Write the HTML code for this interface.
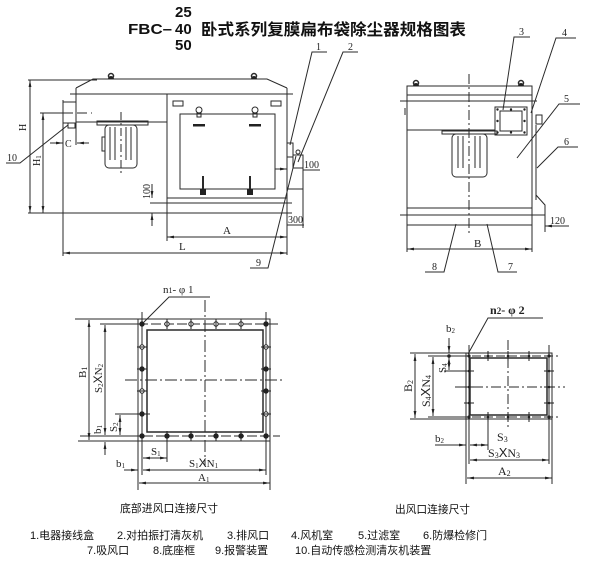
<!DOCTYPE html>
<html><head><meta charset="utf-8"><style>
html,body{margin:0;padding:0;background:#fff}
svg{display:block}
.t{font-family:"Liberation Serif","Noto Serif CJK SC",serif;fill:#222}
.c{font-family:"Liberation Sans","Noto Sans CJK SC",sans-serif;fill:#111}
.x{font-family:"Liberation Sans",sans-serif}
</style></head><body>
<svg width="602" height="572" viewBox="0 0 602 572" xmlns="http://www.w3.org/2000/svg">
<defs>
<marker id="ar" viewBox="0 0 10 4" refX="10" refY="2" markerWidth="7" markerHeight="2.8" orient="auto-start-reverse" markerUnits="userSpaceOnUse"><path d="M0,0 L10,2 L0,4z" fill="#222"/></marker>
</defs>

<!-- Title -->
<g font-family="Liberation Sans, sans-serif" font-weight="bold" fill="#111" font-size="15">
<text x="175" y="17">25</text>
<text x="128" y="34" textLength="44" lengthAdjust="spacingAndGlyphs">FBC–</text>
<text x="175" y="34">40</text>
<text x="175" y="50">50</text>
</g>
<text x="201" y="35" font-family="Noto Sans CJK SC, sans-serif" font-weight="bold" font-size="16" fill="#111" textLength="265" lengthAdjust="spacingAndGlyphs">卧式系列复膜扁布袋除尘器规格图表</text>

<g stroke="#2a2a2a" fill="none" stroke-width="1">
<!-- ================= LEFT VIEW ================= -->
<polyline points="76,88 93,79 267,79 287,88"/>
<line x1="70" y1="94" x2="293" y2="94"/>
<line x1="76" y1="88" x2="76" y2="145"/>
<line x1="287" y1="88" x2="287" y2="255"/>
<line x1="63" y1="100" x2="63" y2="256"/>
<rect x="63" y="102" width="13" height="21"/>
<rect x="68" y="123" width="7" height="5"/>
<line x1="76" y1="122" x2="167" y2="122"/>
<line x1="167" y1="94" x2="167" y2="241"/>
<circle cx="111" cy="76" r="2.5" stroke-width="1.5"/>
<circle cx="254" cy="76" r="2.5" stroke-width="1.5"/>
<rect x="173" y="101" width="10" height="5"/>
<rect x="271" y="101" width="10" height="5"/>
<rect x="180" y="114" width="95" height="75"/>
<circle cx="199" cy="110" r="3"/>
<circle cx="255" cy="110" r="3"/>
<rect x="197" y="113" width="4" height="4"/>
<rect x="253" y="113" width="4" height="4"/>
<line x1="275" y1="169" x2="287" y2="169" marker-end="url(#ar)"/>
<line x1="203" y1="176" x2="203" y2="191" stroke-width="2"/>
<line x1="250" y1="176" x2="250" y2="191" stroke-width="2"/>
<rect x="97" y="121" width="51" height="4"/>
<rect x="105" y="125" width="32" height="43" rx="4"/>
<line x1="110" y1="127" x2="110" y2="160"/>
<line x1="115" y1="127" x2="115" y2="160"/>
<line x1="126" y1="127" x2="126" y2="160"/>
<line x1="131" y1="127" x2="131" y2="160"/>
<rect x="102" y="137" width="3" height="14"/>
<line x1="121" y1="112" x2="121" y2="176" stroke-dasharray="8,3,2,3"/>
<rect x="287" y="143" width="6" height="14"/>
<rect x="293" y="155" width="10" height="13"/>
<circle cx="298" cy="152" r="2"/>
<line x1="167" y1="198" x2="287" y2="198"/>
<line x1="150" y1="203" x2="292" y2="203"/>
<line x1="28" y1="213" x2="292" y2="213"/>
<line x1="152" y1="184" x2="152" y2="198" marker-end="url(#ar)"/>
<line x1="152" y1="226" x2="152" y2="213" marker-end="url(#ar)"/>
<line x1="303" y1="155" x2="303" y2="228"/>
<line x1="287" y1="189" x2="303" y2="189"/>
<line x1="303" y1="170" x2="320" y2="170"/>
<line x1="287" y1="225" x2="304" y2="225"/>
<line x1="28" y1="80" x2="97" y2="80"/>
<line x1="30" y1="80" x2="30" y2="213" marker-start="url(#ar)" marker-end="url(#ar)"/>
<line x1="40" y1="113" x2="63" y2="113"/>
<line x1="63" y1="113" x2="92" y2="113" stroke-dasharray="10,4"/>
<line x1="43" y1="113" x2="43" y2="213" marker-start="url(#ar)" marker-end="url(#ar)"/>
<line x1="50" y1="143" x2="63" y2="143" marker-end="url(#ar)"/>
<line x1="89" y1="143" x2="77" y2="143" marker-end="url(#ar)"/>
<line x1="167" y1="237" x2="287" y2="237" marker-start="url(#ar)" marker-end="url(#ar)"/>
<line x1="63" y1="253" x2="287" y2="253" marker-start="url(#ar)" marker-end="url(#ar)"/>
<polyline points="6,163 20,163 68,125"/>
<polyline points="327,52 312,52 290,145"/>
<polyline points="358,52 343,52 298,162"/>
<polyline points="250,268 268,268 296,156"/>

<!-- ================= RIGHT VIEW ================= -->
<rect x="407" y="86" width="125" height="139"/>
<line x1="407" y1="95" x2="532" y2="95"/>
<line x1="400" y1="101" x2="537" y2="101"/>
<line x1="407" y1="130" x2="495" y2="130"/>
<line x1="407" y1="208" x2="532" y2="208"/>
<line x1="400" y1="215" x2="545" y2="215"/>
<line x1="407" y1="225" x2="407" y2="252"/>
<line x1="532" y1="225" x2="532" y2="252"/>
<line x1="405" y1="108" x2="405" y2="115"/>
<circle cx="416" cy="83" r="2.5" stroke-width="1.5"/>
<circle cx="521" cy="83" r="2.5" stroke-width="1.5"/>
<line x1="469" y1="74" x2="469" y2="236" stroke-dasharray="10,3,2,3"/>
<rect x="495" y="107" width="32" height="28"/>
<rect x="500" y="111" width="22" height="20"/>
<rect x="442" y="131" width="55" height="3"/>
<rect x="452" y="134" width="35" height="43" rx="4"/>
<line x1="458" y1="136" x2="458" y2="168"/>
<line x1="463" y1="136" x2="463" y2="168"/>
<line x1="475" y1="136" x2="475" y2="168"/>
<line x1="480" y1="136" x2="480" y2="168"/>
<line x1="536" y1="125" x2="536" y2="200"/>
<rect x="536" y="115" width="6" height="9"/>
<polyline points="536,195 545,205 545,215"/>
<line x1="545" y1="205" x2="545" y2="232"/>
<line x1="569" y1="226" x2="545" y2="226" marker-end="url(#ar)"/>
<line x1="407" y1="249" x2="532" y2="249" marker-start="url(#ar)" marker-end="url(#ar)"/>
<polyline points="530,37 514,37 503,110"/>
<polyline points="576,38 556,38 531,113"/>
<polyline points="580,104 559,104 517,158"/>
<polyline points="578,147 558,147 537,168"/>
<polyline points="517,272 498,272 487,224"/>
<polyline points="425,272 444,272 456,224"/>

<!-- ================= BOTTOM-LEFT FLANGE ================= -->
<rect x="138" y="319" width="132" height="122"/>
<rect x="147" y="330" width="116" height="102" stroke-width="1.5"/>
<line x1="138" y1="324" x2="280" y2="324" stroke-dasharray="10,3"/>
<line x1="130" y1="436" x2="280" y2="436" stroke-dasharray="10,3"/>
<line x1="142" y1="312" x2="142" y2="475"/>
<line x1="266" y1="312" x2="266" y2="475"/>
<line x1="205" y1="300" x2="205" y2="466" stroke-dasharray="12,3,2,3"/>
<line x1="125" y1="380" x2="285" y2="380" stroke-dasharray="12,3,2,3"/>
<line x1="75" y1="319" x2="138" y2="319"/>
<line x1="78" y1="441" x2="138" y2="441"/>
<line x1="100" y1="324" x2="142" y2="324"/>
<line x1="115" y1="414" x2="150" y2="414"/>
<line x1="80" y1="436" x2="142" y2="436"/>
<line x1="89" y1="320" x2="89" y2="440" marker-start="url(#ar)" marker-end="url(#ar)"/>
<line x1="105" y1="325" x2="105" y2="435" marker-start="url(#ar)" marker-end="url(#ar)"/>
<line x1="120" y1="415" x2="120" y2="435" marker-start="url(#ar)" marker-end="url(#ar)"/>
<line x1="105" y1="455" x2="105" y2="442" marker-end="url(#ar)"/>
<line x1="138" y1="441" x2="138" y2="490"/>
<line x1="270" y1="441" x2="270" y2="490"/>
<line x1="167" y1="436" x2="167" y2="462"/>
<line x1="143" y1="458" x2="167" y2="458" marker-start="url(#ar)" marker-end="url(#ar)"/>
<line x1="124" y1="470" x2="138" y2="470" marker-end="url(#ar)"/>
<line x1="143" y1="470" x2="266" y2="470" marker-start="url(#ar)" marker-end="url(#ar)"/>
<line x1="139" y1="483" x2="270" y2="483" marker-start="url(#ar)" marker-end="url(#ar)"/>
<polyline points="210,297 169,297 144,322"/>

<!-- ================= BOTTOM-RIGHT FLANGE ================= -->
<rect x="466" y="353" width="86" height="66"/>
<rect x="470" y="358" width="77" height="57" stroke-width="1.5"/>
<line x1="460" y1="356" x2="558" y2="356" stroke-dasharray="9,3"/>
<line x1="460" y1="417" x2="558" y2="417" stroke-dasharray="9,3"/>
<line x1="469" y1="345" x2="469" y2="464"/>
<line x1="549" y1="345" x2="549" y2="464"/>
<line x1="455" y1="387" x2="565" y2="387" stroke-dasharray="10,3,2,3"/>
<line x1="508" y1="340" x2="508" y2="430" stroke-dasharray="10,3,2,3"/>
<line x1="410" y1="353" x2="466" y2="353"/>
<line x1="410" y1="419" x2="466" y2="419"/>
<line x1="428" y1="356" x2="466" y2="356"/>
<line x1="428" y1="417" x2="466" y2="417"/>
<line x1="444" y1="371" x2="472" y2="371"/>
<line x1="415" y1="354" x2="415" y2="418" marker-start="url(#ar)" marker-end="url(#ar)"/>
<line x1="433" y1="357" x2="433" y2="416" marker-start="url(#ar)" marker-end="url(#ar)"/>
<line x1="449" y1="357" x2="449" y2="370" marker-start="url(#ar)" marker-end="url(#ar)"/>
<line x1="449" y1="338" x2="449" y2="353" marker-end="url(#ar)"/>
<line x1="466" y1="419" x2="466" y2="484"/>
<line x1="552" y1="419" x2="552" y2="484"/>
<line x1="488" y1="419" x2="488" y2="450"/>
<line x1="435" y1="445" x2="466" y2="445" marker-end="url(#ar)"/>
<line x1="470" y1="445" x2="488" y2="445" marker-start="url(#ar)" marker-end="url(#ar)"/>
<line x1="470" y1="460" x2="549" y2="460" marker-start="url(#ar)" marker-end="url(#ar)"/>
<line x1="467" y1="478" x2="552" y2="478" marker-start="url(#ar)" marker-end="url(#ar)"/>
<polyline points="543,318 488,318 468,354"/>
</g>

<g fill="#222" stroke="none">
<rect x="193" y="124" width="12" height="2.5"/>
<rect x="249" y="124" width="12" height="2.5"/>
<rect x="200" y="189" width="6" height="6"/>
<rect x="247" y="189" width="6" height="6"/>
<path d="M108,79 a3,3 0 0 1 6,0z"/>
<path d="M251,79 a3,3 0 0 1 6,0z"/>
<path d="M413,86 a3,3 0 0 1 6,0z"/>
<path d="M518,86 a3,3 0 0 1 6,0z"/>
<circle cx="497.5" cy="109.5" r="1.2"/><circle cx="511" cy="109.5" r="1.2"/><circle cx="524.5" cy="109.5" r="1.2"/>
<circle cx="497.5" cy="132.5" r="1.2"/><circle cx="511" cy="132.5" r="1.2"/><circle cx="524.5" cy="132.5" r="1.2"/>
<circle cx="497.5" cy="121" r="1.2"/><circle cx="524.5" cy="121" r="1.2"/>
</g>

<g stroke="#222" stroke-width="1" fill="#fff">
<circle cx="142" cy="324" r="2.2" fill="#222"/><circle cx="167" cy="324" r="2.2"/><circle cx="191" cy="324" r="2.2"/><circle cx="216" cy="324" r="2.2"/><circle cx="241" cy="324" r="2.2"/><circle cx="266" cy="324" r="2.2" fill="#222"/>
<circle cx="142" cy="436" r="2.2" fill="#222"/><circle cx="167" cy="436" r="2.2" fill="#222"/><circle cx="191" cy="436" r="2.2" fill="#222"/><circle cx="216" cy="436" r="2.2" fill="#222"/><circle cx="241" cy="436" r="2.2" fill="#222"/><circle cx="266" cy="436" r="2.2" fill="#222"/>
<circle cx="142" cy="347" r="2.2"/><circle cx="142" cy="369" r="2.2" fill="#222"/><circle cx="142" cy="391" r="2.2"/><circle cx="142" cy="414" r="2.2" fill="#222"/>
<circle cx="266" cy="347" r="2.2"/><circle cx="266" cy="369" r="2.2" fill="#222"/><circle cx="266" cy="391" r="2.2" fill="#222"/><circle cx="266" cy="414" r="2.2"/>
</g>
<g stroke="#222" stroke-width="1">
<path d="M137,347h10M137,369h10M137,391h10M137,414h10M261,347h10M261,369h10M261,391h10M261,414h10M167,319v10M191,319v10M216,319v10M241,319v10M167,431v10M191,431v10M216,431v10M241,431v10"/>
<path d="M488,351v10M508,351v10M529,351v10M488,412v10M508,412v10M529,412v10M464,371h10M464,387h10M464,403h10M544,371h10M544,387h10M544,403h10"/>
</g>
<g fill="#222">
<circle cx="469" cy="356" r="1.6"/><circle cx="488" cy="356" r="1.3"/><circle cx="508" cy="356" r="1.3"/><circle cx="529" cy="356" r="1.3"/><circle cx="549" cy="356" r="1.6"/>
<circle cx="469" cy="417" r="1.6"/><circle cx="488" cy="417" r="1.3"/><circle cx="508" cy="417" r="1.3"/><circle cx="529" cy="417" r="1.3"/><circle cx="549" cy="417" r="1.6"/>
<circle cx="469" cy="371" r="1.3"/><circle cx="469" cy="387" r="1.3"/><circle cx="469" cy="403" r="1.3"/>
<circle cx="549" cy="371" r="1.3"/><circle cx="549" cy="387" r="1.3"/><circle cx="549" cy="403" r="1.3"/>
<circle cx="449" cy="356" r="1.8"/>
</g>

<g class="t" font-size="10">
<text x="26" y="131" transform="rotate(-90 26 131)">H</text>
<text x="40" y="166" transform="rotate(-90 40 166)">H<tspan font-size="7" dy="1">1</tspan></text>
<text x="65" y="147">C</text>
<text x="7" y="161">10</text>
<text x="150" y="199" transform="rotate(-90 150 199)">100</text>
<text x="223" y="234" font-size="11">A</text>
<text x="179" y="250" font-size="11">L</text>
<text x="304" y="168">100</text>
<text x="288" y="223">300</text>
<text x="316" y="50">1</text>
<text x="348" y="50">2</text>
<text x="256" y="266">9</text>
<text x="519" y="35">3</text>
<text x="562" y="36">4</text>
<text x="564" y="102">5</text>
<text x="564" y="145">6</text>
<text x="508" y="270">7</text>
<text x="432" y="270">8</text>
<text x="550" y="224">120</text>
<text x="474" y="247" font-size="11">B</text>
</g>

<g class="t" font-size="11">
<text x="163" y="293">n<tspan font-size="8">1</tspan>- φ 1</text>
<text x="86" y="378" transform="rotate(-90 86 378)">B<tspan font-size="8" dy="1">1</tspan></text>
<text x="102" y="393" transform="rotate(-90 102 393)">S<tspan font-size="7" dy="1">2</tspan><tspan class="x" font-size="12" dy="-1">X</tspan>N<tspan font-size="7" dy="1">2</tspan></text>
<text x="117" y="432" transform="rotate(-90 117 432)">S<tspan font-size="7" dy="1">2</tspan></text>
<text x="101" y="434" transform="rotate(-90 101 434)">b<tspan font-size="7" dy="1">1</tspan></text>
<text x="151" y="455">S<tspan font-size="7" dy="1">1</tspan></text>
<text x="116" y="467">b<tspan font-size="7" dy="1">1</tspan></text>
<text x="189" y="467">S<tspan font-size="7" dy="1">1</tspan><tspan class="x" font-size="12" dy="-1">X</tspan>N<tspan font-size="7" dy="1">1</tspan></text>
<text x="198" y="481">A<tspan font-size="7" dy="1">1</tspan></text>

<text x="490" y="314" font-size="12" font-weight="bold">n<tspan font-size="9">2</tspan>- φ 2</text>
<text x="446" y="332">b<tspan font-size="7" dy="1">2</tspan></text>
<text x="412" y="392" font-size="12" transform="rotate(-90 412 392)">B<tspan font-size="8" dy="1">2</tspan></text>
<text x="430" y="407" font-size="12" transform="rotate(-90 430 407)">S<tspan font-size="8" dy="1">4</tspan><tspan class="x" font-size="13" dy="-1">X</tspan>N<tspan font-size="8" dy="1">4</tspan></text>
<text x="446" y="373" transform="rotate(-90 446 373)">S<tspan font-size="7" dy="1">4</tspan></text>
<text x="435" y="442">b<tspan font-size="7" dy="1">2</tspan></text>
<text x="497" y="441" font-size="12">S<tspan font-size="8" dy="1">3</tspan></text>
<text x="488" y="457" font-size="12">S<tspan font-size="8" dy="1">3</tspan><tspan class="x" font-size="13" dy="-1">X</tspan>N<tspan font-size="8" dy="1">3</tspan></text>
<text x="498" y="475" font-size="12">A<tspan font-size="8" dy="1">2</tspan></text>
</g>

<g class="c" font-size="11">
<text x="120" y="512" textLength="98" lengthAdjust="spacingAndGlyphs">底部进风口连接尺寸</text>
<text x="395" y="513" textLength="75" lengthAdjust="spacingAndGlyphs">出风口连接尺寸</text>
<text x="30" y="539">1.电器接线盒</text>
<text x="117" y="539">2.对拍振打清灰机</text>
<text x="227" y="539">3.排风口</text>
<text x="291" y="539">4.风机室</text>
<text x="358" y="539">5.过滤室</text>
<text x="423" y="539">6.防爆检修门</text>
<text x="87" y="554">7.吸风口</text>
<text x="153" y="554">8.底座框</text>
<text x="215" y="554">9.报警装置</text>
<text x="295" y="554">10.自动传感检测清灰机装置</text>
</g>
</svg>
</body></html>
